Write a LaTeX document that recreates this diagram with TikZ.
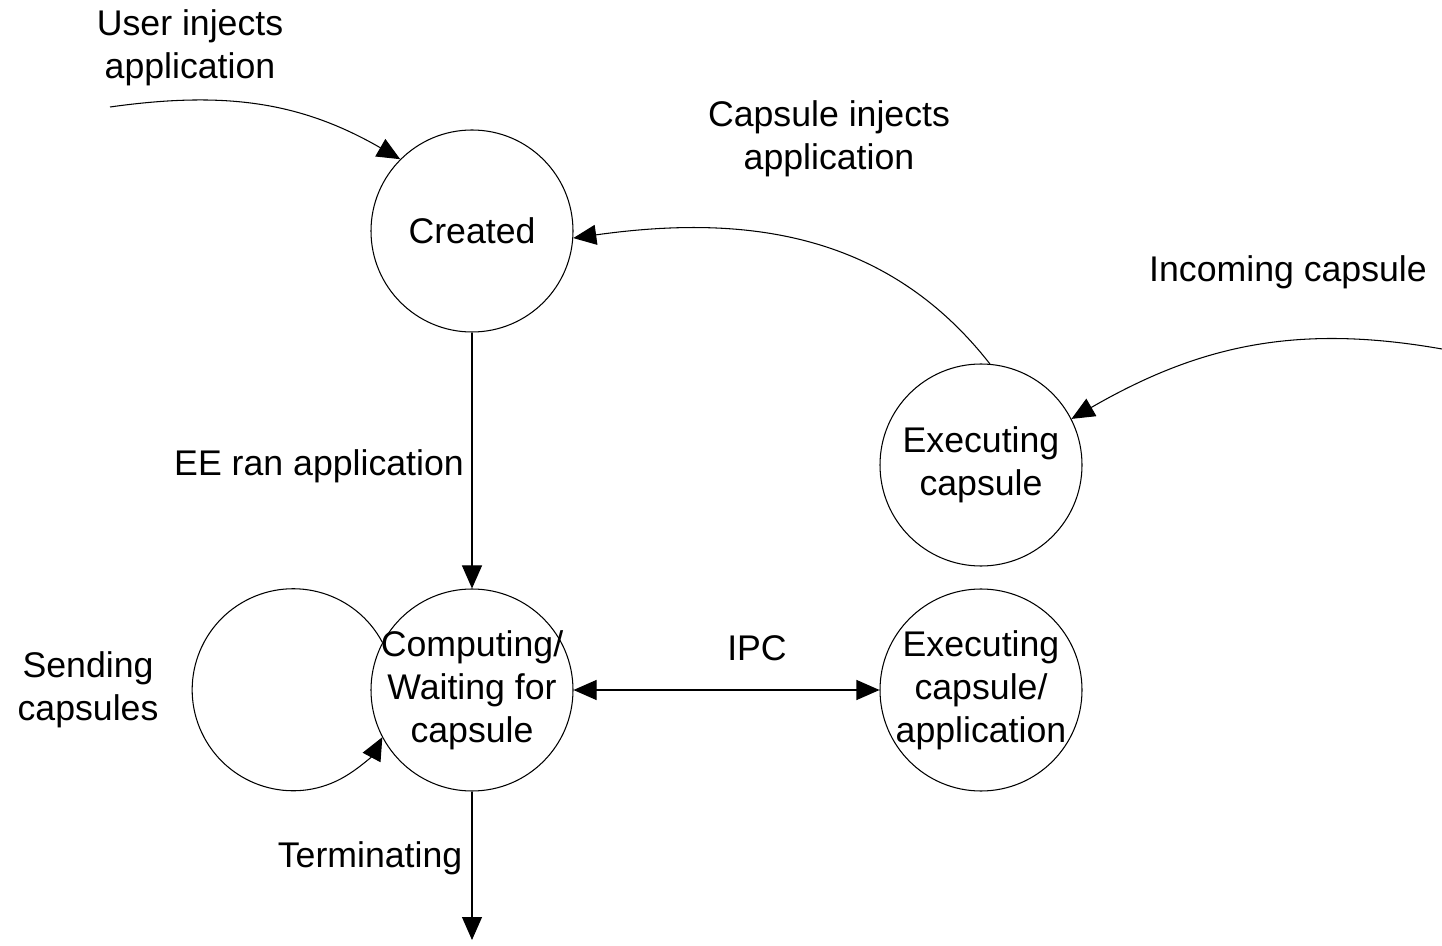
\documentclass[tikz,border=0pt]{standalone}
\usepackage{fontspec}
\setmainfont{Liberation Sans}
\usetikzlibrary{arrows.meta}

\tikzset{
  state/.style={draw, circle, minimum size=4.04cm, inner sep=-0.6cm, align=center},
  label text/.style={align=center},
  arr/.style={-{Triangle[length=0.46cm,width=0.4cm]}},
}

\begin{document}
\begin{tikzpicture}[line width=0.6pt, font=\fontsize{20.3}{24.4}\selectfont]

\useasboundingbox (0,0) rectangle (28.84,18.9);

% Состояния
\node[state] (created) at (9.44,14.28) {Created};
\node[state] (comp)    at (9.44,5.10)  {Computing/\\Waiting for\\capsule};
\node[state] (execA)   at (19.62,9.60) {Executing\\capsule};
\node[state] (execB)   at (19.62,5.10) {Executing\\capsule/\\application};

% Свободные концы
\coordinate (user) at (2.20,16.76);
\coordinate (inc)  at (28.84,11.92);
\coordinate (term) at (9.44,0.10);

% Переходы
\draw[arr] (user) to[out=8, in=150] (created.135);
\draw[arr] (execA.85) to[out=128, in=8] (created.356);
\draw[arr] (inc) to[out=170, in=30] (execA.27);
\draw[arr] (created) -- (comp);
\draw[arr] (comp) -- (term);
\draw[{Triangle[length=0.46cm,width=0.4cm]}-{Triangle[length=0.46cm,width=0.4cm]}] (comp) -- (execB);

% Петля
\draw[arr] (comp.152) arc[start angle=28, end angle=332, radius=2.02cm];

% Подписи
\node[label text] (luser) at (3.80,17.94) {User injects\\application};
\node[label text] (lcaps) at (16.58,16.12) {Capsule injects\\application};
\node[label text] (linc)  at (25.76,13.46) {Incoming capsule};
\node[label text] (lee)   at (6.38,9.58) {EE ran application};
\node[label text] (lsend) at (1.76,5.10) {Sending\\capsules};
\node[label text] (lipc)  at (15.14,5.94) {IPC};
\node[label text] (lterm) at (7.40,1.74) {Terminating};

\end{tikzpicture}
\end{document}
